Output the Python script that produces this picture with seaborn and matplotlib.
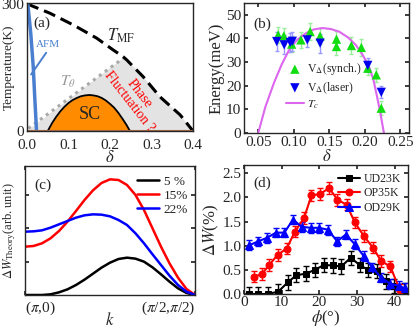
import numpy as np
import seaborn as sns
import matplotlib.pyplot as plt

# ---- panel (a): phase diagram ----
mf_delta = [0.0, 0.055, 0.112, 0.168, 0.208, 0.232, 0.240, 0.280, 0.320, 0.369, 0.400]
mf_T = [300, 278, 250, 219, 191, 175, 168, 128, 81, 38, 0]
afm_delta = [0.002, 0.009, 0.015, 0.019, 0.023]
afm_T = [300, 231, 152, 73, 0]
theta_delta = [0.003, 0.232]
theta_T = [6, 172]
sc_delta = [0.05, 0.06, 0.07, 0.08, 0.09, 0.10, 0.11, 0.12, 0.13, 0.14, 0.15,
            0.16, 0.17, 0.18, 0.19, 0.20, 0.21, 0.22, 0.23, 0.24, 0.248]
sc_T = [0, 18, 33, 46, 57, 66, 73, 78, 82, 84, 85, 84, 82, 78, 72, 64, 55, 43, 29, 14, 0]

# ---- panel (b): energy vs doping ----
tc_delta = [0.050, 0.060, 0.072, 0.083, 0.0935, 0.105, 0.117, 0.128, 0.140,
            0.152, 0.1636, 0.176, 0.187, 0.197, 0.2057, 0.212, 0.217, 0.222, 0.2267]
tc_E = [0, 11, 21.1, 29, 35.2, 39.5, 42.2, 43.8, 44.4,
        44.0, 42.9, 40.5, 37.3, 33.0, 28.1, 22.5, 15.5, 8.0, 0]
synch_delta = [0.078, 0.086, 0.097, 0.110, 0.123, 0.137, 0.160, 0.160, 0.181, 0.195, 0.204, 0.216, 0.223]
synch_E = [41.5, 41.1, 37.6, 39.4, 42.9, 41.0, 39.7, 36.6, 37.0, 36.2, 27.4, 24.6, 10.5]
synch_err = [3.5, 3.5, 3.5, 3.5, 3.5, 3.5, 3.5, 3.5, 3.5, 3.5, 3, 3, 3]
laser_delta = [0.076, 0.0865, 0.095, 0.098, 0.119, 0.137, 0.204, 0.223]
laser_E = [38.7, 37.3, 38.3, 38.8, 39.4, 38.0, 28.6, 17.2]
laser_err = [4, 4, 4, 4, 3, 4, 3, 2.5]

# ---- panel (c): theory curves ----
c_k = [0.0, 0.05, 0.10, 0.15, 0.20, 0.25, 0.30, 0.35, 0.40, 0.45, 0.50,
       0.55, 0.60, 0.65, 0.70, 0.75, 0.80, 0.85, 0.90, 0.95, 1.0]
c_05 = [0.0, 0.0, 0.0, 0.02, 0.08, 0.17, 0.30, 0.46, 0.64, 0.82, 0.97,
        1.08, 1.12, 1.09, 1.00, 0.83, 0.62, 0.40, 0.20, 0.06, 0.0]
c_15 = [1.45, 1.47, 1.55, 1.70, 1.92, 2.20, 2.52, 2.85, 3.14, 3.36, 3.47,
        3.45, 3.30, 3.00, 2.55, 2.00, 1.45, 0.95, 0.52, 0.18, 0.0]
c_22 = [1.90, 1.91, 1.94, 2.02, 2.12, 2.22, 2.32, 2.39, 2.42, 2.41, 2.36,
        2.25, 2.10, 1.85, 1.55, 1.22, 0.90, 0.58, 0.30, 0.10, 0.0]

# ---- panel (d): measured Delta W ----
ud_phi = [1.4, 3.8, 6.4, 9.1, 11.6, 13.9, 16.4, 18.8, 21.2, 23.6, 25.8, 28.3, 30.7, 32.9, 35.4, 37.7, 39.9, 42.4]
ud_w = [0.0, 0.0, 0.0, 0.05, 0.24, 0.39, 0.42, 0.50, 0.60, 0.59, 0.57, 0.75, 0.60, 0.50, 0.48, 0.26, 0.17, 0.07]
op_phi = [2.7, 4.7, 6.7, 8.9, 11.3, 13.5, 15.9, 17.9, 20.1, 22.6, 24.8, 27.2, 29.4, 31.8, 34.2, 36.4, 38.8, 41.3]
op_w = [0.36, 0.41, 0.60, 0.81, 0.94, 1.29, 1.57, 2.04, 2.07, 2.19, 1.95, 1.85, 1.48, 1.20, 0.96, 0.68, 0.57, 0.09]
od_phi = [1.4, 3.8, 6.0, 8.5, 10.7, 13.0, 15.3, 17.7, 19.9, 22.3, 24.7, 27.0, 29.4, 31.7, 34.0, 36.4, 38.8, 41.1, 42.6]
od_w = [1.01, 1.09, 1.16, 1.27, 1.27, 1.54, 1.39, 1.37, 1.37, 1.33, 1.09, 1.23, 1.03, 0.79, 0.55, 0.34, 0.21, 0.17, 0.12]

sns.set_theme(style='ticks')
plt.rcParams['font.family'] = ['Liberation Serif', 'DejaVu Serif']
plt.rcParams['mathtext.fontset'] = 'stix'
plt.rcParams['xtick.direction'] = 'in'
plt.rcParams['ytick.direction'] = 'in'
plt.rcParams['xtick.top'] = True
plt.rcParams['ytick.right'] = True
plt.rcParams['font.size'] = 10
plt.rcParams['axes.linewidth'] = 1.0

fig = plt.figure(figsize=(4.15, 3.28), dpi=100)
W, H = 415, 328
def add_ax(l, r, t, b):
    return fig.add_axes([l / W, 1 - b / H, (r - l) / W, (b - t) / H])

ax_a = add_ax(27, 193, 3, 131)
ax_b = add_ax(244, 409, 3, 133)
ax_c = add_ax(25, 195, 166, 295)
ax_d = add_ax(244, 408, 165, 294)

# (a)
fill_x = [0.0] + theta_delta[1:] + [d for d in mf_delta if d > 0.232] + [0.4]
fill_y = [0.0] + theta_T[1:] + [t for d, t in zip(mf_delta, mf_T) if d > 0.232] + [0]
ax_a.fill(fill_x, fill_y, color='#e3e3e3', lw=0)
ax_a.fill_between(sc_delta, 0, sc_T, color='#ff8c00', lw=0)
sns.lineplot(x=sc_delta, y=sc_T, ax=ax_a, color='black', lw=1.3, sort=False)
sns.lineplot(x=theta_delta, y=theta_T, ax=ax_a, color='#aaaaaa', lw=2.2,
             linestyle=(0, (1, 1.4)), sort=False)
sns.lineplot(x=mf_delta, y=mf_T, ax=ax_a, color='black', lw=2.2,
             linestyle=(0, (4, 2)), sort=False)
sns.lineplot(x=afm_delta, y=afm_T, ax=ax_a, color='#4a7fd0', lw=2.5, sort=False)
ax_a.axhline(0, color='#b07050', lw=1.5)
ax_a.annotate('', xy=(0.05, 190), xytext=(0.006, 128),
              arrowprops=dict(arrowstyle='-', color='#4a7fd0', lw=1.4))
ax_a.text(0.022, 198, 'AFM', color='#4a7fd0', fontsize=8)
ax_a.text(0.036, 255, '(a)', fontsize=11, ha='center', va='center')
ax_a.text(0.227, 224, r'$T_{\rm MF}$', fontsize=12, ha='center', va='center')
ax_a.text(0.099, 116, r'$T_\theta$', fontsize=11, color='#999999', ha='center', va='center')
ax_a.text(0.152, 38, 'SC', fontsize=13, ha='center', va='center')
ax_a.text(0.258, 78, 'Phase\nFluctuation ?', color='red', fontsize=10, rotation=-52,
          ha='center', va='center', multialignment='center', linespacing=1.0)
ax_a.set_xlim(0, 0.4)
ax_a.set_ylim(0, 302)
ax_a.set_xticks([0.0, 0.1, 0.2, 0.3, 0.4])
ax_a.set_xticklabels(['0.0', '0.1', '0.2', '0.3', '0.4'])
ax_a.set_yticks([0, 300])
ax_a.tick_params(length=0, pad=2)
ax_a.tick_params(axis='x', pad=5.5)
ax_a.set_xlabel(r'$\delta$', labelpad=-1)
ax_a.set_ylabel('Temperature(K)', fontsize=9.5)
ax_a.yaxis.set_label_coords(-0.075, 0.5)

# (b)
ax_b.errorbar(synch_delta, synch_E, yerr=synch_err, fmt='none', ecolor='#99ee99', elinewidth=1, capsize=1.5)
ax_b.errorbar(laser_delta, laser_E, yerr=laser_err, fmt='none', ecolor='#9999ff', elinewidth=1, capsize=1.5)
sns.lineplot(x=tc_delta, y=tc_E, ax=ax_b, color='#dd66ee', lw=1.5, sort=False, label=r'$T_c$')
sns.scatterplot(x=synch_delta, y=synch_E, ax=ax_b, marker='^', color='#11dd11', s=45,
                edgecolor='none', label=r'V$_\Delta$(synch.)', zorder=3)
sns.scatterplot(x=laser_delta, y=laser_E, ax=ax_b, marker='v', color='#0000ee', s=45,
                edgecolor='none', label=r'V$_\Delta$(laser)', zorder=3)
h, l = ax_b.get_legend_handles_labels()
ax_b.legend([h[1], h[2], h[0]], [l[1], l[2], l[0]], loc='center left',
            bbox_to_anchor=(0.19, 0.36), frameon=False, fontsize=8.5,
            handlelength=1.5, handletextpad=0.3, labelspacing=0.25)
ax_b.text(0.11, 0.84, '(b)', transform=ax_b.transAxes, fontsize=11, ha='center', va='center')
ax_b.set_xlim(0.03, 0.262)
ax_b.set_ylim(0, 55)
ax_b.set_xticks([0.05, 0.10, 0.15, 0.20, 0.25])
ax_b.set_xticklabels(['0.05', '0.10', '0.15', '0.20', '0.25'])
ax_b.set_yticks([0, 10, 20, 30, 40, 50])
ax_b.tick_params(length=3, pad=2)
ax_b.set_xlabel(r'$\delta$', labelpad=0)
ax_b.set_ylabel('Energy(meV)', labelpad=1)

# (c)
sns.lineplot(x=c_k, y=c_05, ax=ax_c, color='black', lw=1.8, label='5 %')
sns.lineplot(x=c_k, y=c_15, ax=ax_c, color='#ff0000', lw=1.8, label='15%')
sns.lineplot(x=c_k, y=c_22, ax=ax_c, color='#0000ff', lw=1.8, label='22%')
ax_c.legend(loc='upper right', bbox_to_anchor=(1.03, 1.02), frameon=False, fontsize=9.5,
            handlelength=1.6, handletextpad=0.4, labelspacing=0.15)
ax_c.text(0.106, 0.853, '(c)', transform=ax_c.transAxes, fontsize=11, ha='center', va='center')
ax_c.set_xlim(0, 1)
ax_c.set_ylim(0, 3.87)
ax_c.set_yticks([1, 2, 3])
ax_c.set_yticklabels([])
ax_c.set_xticks([0, 1])
ax_c.set_xticklabels([r'($\pi$,0)', r'($\pi$/2,$\pi$/2)'])
lab = ax_c.get_xticklabels()
lab[0].set_horizontalalignment('left')
lab[1].set_horizontalalignment('right')
ax_c.tick_params(length=3, pad=3)
ax_c.set_xlabel(r'$k$', labelpad=-3)
ax_c.set_ylabel(r'$\Delta W_{\rm Theory}$(arb. unit)', fontsize=9, labelpad=2)

# (d)
ax_d.errorbar(ud_phi, ud_w, yerr=0.15, fmt='none', ecolor='black', elinewidth=1, capsize=2)
ax_d.errorbar(op_phi, op_w, yerr=0.12, fmt='none', ecolor='#ff0000', elinewidth=1, capsize=2)
ax_d.errorbar(od_phi, od_w, yerr=0.1, fmt='none', ecolor='#0000ff', elinewidth=1, capsize=2)
sns.lineplot(x=ud_phi, y=ud_w, ax=ax_d, color='black', lw=1.5, marker='s', markersize=5,
             markeredgecolor='black', label='UD23K')
sns.lineplot(x=op_phi, y=op_w, ax=ax_d, color='#ff0000', lw=1.5, marker='o', markersize=5,
             markeredgecolor='#ff0000', label='OP35K')
sns.lineplot(x=od_phi, y=od_w, ax=ax_d, color='#0000ff', lw=1.5, marker='^', markersize=6,
             markeredgecolor='#0000ff', label='OD29K')
ax_d.legend(loc='upper right', bbox_to_anchor=(1.02, 1.02), frameon=False, fontsize=8.5,
            handlelength=1.8, handletextpad=0.3, labelspacing=0.2)
ax_d.text(0.11, 0.86, '(d)', transform=ax_d.transAxes, fontsize=11, ha='center', va='center')
ax_d.set_xlim(0, 43.5)
ax_d.set_ylim(0, 2.67)
ax_d.set_xticks([0, 10, 20, 30, 40])
ax_d.set_yticks([0, 0.5, 1.0, 1.5, 2.0, 2.5])
ax_d.set_yticklabels(['0.0', '0.5', '1.0', '1.5', '2.0', '2.5'])
ax_d.tick_params(length=3, pad=2)
ax_d.tick_params(axis='x', pad=1.5)
ax_d.set_xlabel(r'$\phi$(°)', labelpad=-0.5)
ax_d.set_ylabel(r'$\Delta W$(%)', labelpad=1)

fig.savefig('out.png', dpi=100)
